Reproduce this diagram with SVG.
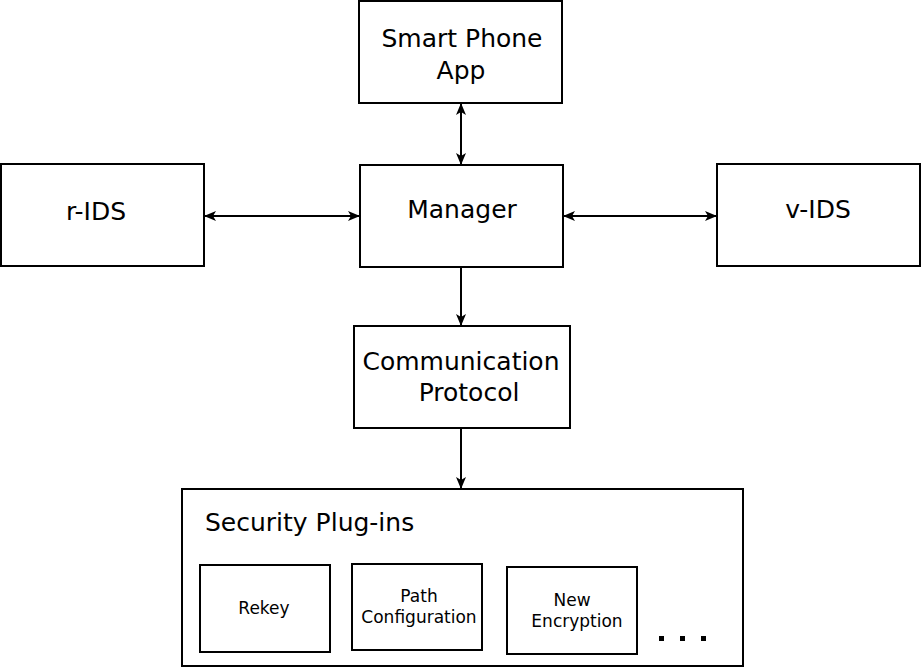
<svg xmlns="http://www.w3.org/2000/svg" width="922" height="669" viewBox="0 0 922 669">
<style>
.box{fill:#fff;stroke:#000;stroke-width:2}
.big{font-family:"DejaVu Sans",sans-serif;font-size:25px;fill:#000}
.small{font-family:"DejaVu Sans",sans-serif;font-size:17px;fill:#000}
.con{stroke:#000;stroke-width:2;fill:none}
</style>
<defs>
<marker id="ah" viewBox="0 0 12 10" refX="11" refY="5" markerWidth="12" markerHeight="10" markerUnits="userSpaceOnUse" orient="auto-start-reverse">
<path d="M0,0 L12,5 L0,10 L3,5 Z" fill="#000"/>
</marker>
</defs>
<rect width="922" height="669" fill="#fff"/>
<g id="connectors">
<line class="con" x1="461" y1="104" x2="461" y2="164" marker-start="url(#ah)" marker-end="url(#ah)"/>
<line class="con" x1="205" y1="216" x2="359" y2="216" marker-start="url(#ah)" marker-end="url(#ah)"/>
<line class="con" x1="564" y1="216" x2="716" y2="216" marker-start="url(#ah)" marker-end="url(#ah)"/>
<line class="con" x1="461" y1="268" x2="461" y2="325" marker-end="url(#ah)"/>
<line class="con" x1="461" y1="429" x2="461" y2="488" marker-end="url(#ah)"/>
</g>
<g id="smartphone">
<rect class="box" x="359" y="1" width="203" height="102"/>
<text class="big" x="462" y="47" text-anchor="middle">Smart Phone</text>
<text class="big" x="461" y="79" text-anchor="middle">App</text>
</g>
<g id="rids">
<rect class="box" x="1" y="164" width="203" height="102"/>
<text class="big" x="96" y="220" text-anchor="middle">r-IDS</text>
</g>
<g id="manager">
<rect class="box" x="360" y="165" width="203" height="102"/>
<text class="big" x="462" y="218" text-anchor="middle">Manager</text>
</g>
<g id="vids">
<rect class="box" x="717" y="164" width="203" height="102"/>
<text class="big" x="818" y="218" text-anchor="middle">v-IDS</text>
</g>
<g id="comm">
<rect class="box" x="354" y="326" width="216" height="102"/>
<text class="big" x="461" y="370" text-anchor="middle">Communication</text>
<text class="big" x="469" y="401" text-anchor="middle">Protocol</text>
</g>
<g id="security">
<rect class="box" x="182" y="489" width="561" height="177"/>
<text class="big" x="205" y="531">Security Plug-ins</text>
</g>
<g id="rekey">
<rect class="box" x="200" y="565" width="130" height="87"/>
<text class="small" x="264" y="614" text-anchor="middle">Rekey</text>
</g>
<g id="path">
<rect class="box" x="352" y="564" width="130" height="86"/>
<text class="small" x="419" y="602" text-anchor="middle">Path</text>
<text class="small" x="419" y="623" text-anchor="middle">Configuration</text>
</g>
<g id="newenc">
<rect class="box" x="507" y="567" width="130" height="87"/>
<text class="small" x="572" y="606" text-anchor="middle">New</text>
<text class="small" x="577" y="627" text-anchor="middle">Encryption</text>
</g>
<g id="dots" fill="#000">
<rect x="659" y="636" width="5" height="5"/>
<rect x="680" y="636" width="5" height="5"/>
<rect x="701" y="636" width="5" height="5"/>
</g>
</svg>
